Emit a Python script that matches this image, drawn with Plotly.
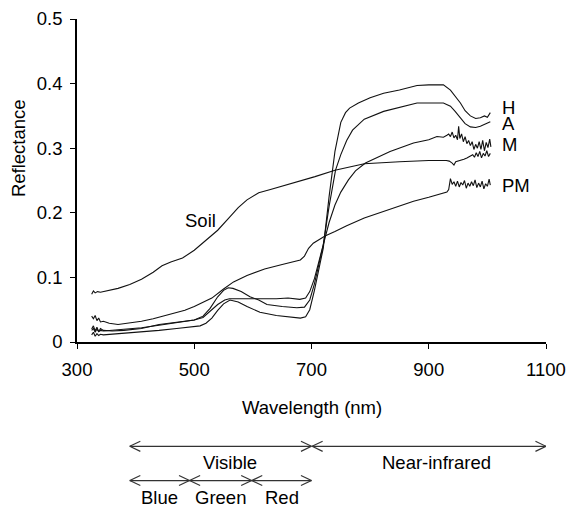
import plotly.graph_objects as go

# ---------------- data ----------------
wl_h = [325, 328, 331, 334, 337, 340, 345, 360, 380, 410, 440, 470, 490, 510, 520, 530, 540, 550, 561, 575, 590, 612, 640, 664, 681, 690, 697, 705, 712, 720, 730, 740, 750, 758, 765, 780, 800, 823, 850, 880, 900, 925, 937, 945, 954, 962, 971, 980, 988, 995, 1000, 1005]
refl_h = [0.011, 0.015, 0.009, 0.013, 0.010, 0.012, 0.011, 0.012, 0.013, 0.015, 0.018, 0.021, 0.023, 0.025, 0.029, 0.037, 0.049, 0.059, 0.065, 0.062, 0.055, 0.046, 0.041, 0.038, 0.037, 0.039, 0.050, 0.080, 0.110, 0.145, 0.225, 0.295, 0.340, 0.355, 0.362, 0.370, 0.378, 0.385, 0.390, 0.397, 0.398, 0.398, 0.390, 0.380, 0.370, 0.358, 0.350, 0.346, 0.347, 0.350, 0.348, 0.355]

wl_a = [325, 328, 331, 334, 337, 340, 345, 360, 380, 410, 440, 470, 500, 515, 527, 540, 550, 558, 566, 580, 595, 610, 624, 650, 675, 688, 697, 705, 712, 720, 730, 741, 750, 760, 770, 790, 823, 850, 880, 925, 937, 945, 954, 962, 971, 980, 988, 995, 1005]
refl_a = [0.020, 0.025, 0.017, 0.023, 0.016, 0.021, 0.018, 0.017, 0.018, 0.021, 0.027, 0.031, 0.034, 0.040, 0.052, 0.070, 0.080, 0.084, 0.083, 0.078, 0.070, 0.065, 0.058, 0.055, 0.053, 0.054, 0.065, 0.090, 0.118, 0.150, 0.210, 0.266, 0.290, 0.312, 0.328, 0.345, 0.357, 0.363, 0.370, 0.370, 0.365, 0.357, 0.347, 0.338, 0.333, 0.332, 0.334, 0.337, 0.341]

wl_m = [325, 328, 331, 334, 337, 340, 345, 360, 380, 410, 440, 470, 500, 515, 527, 540, 552, 560, 580, 600, 620, 640, 660, 680, 690, 697, 705, 712, 720, 730, 740, 750, 763, 775, 792, 810, 834, 874, 900, 914, 925, 931, 934, 937, 940, 943, 946, 949, 951, 953, 956, 959, 962, 965, 968, 971, 974, 977, 980, 983, 986, 989, 992, 995, 998, 1001, 1004, 1006]
refl_m = [0.018, 0.021, 0.015, 0.020, 0.016, 0.018, 0.017, 0.018, 0.019, 0.022, 0.026, 0.030, 0.034, 0.038, 0.047, 0.058, 0.065, 0.067, 0.067, 0.067, 0.066, 0.067, 0.068, 0.066, 0.068, 0.078, 0.098, 0.122, 0.150, 0.185, 0.212, 0.232, 0.251, 0.265, 0.277, 0.285, 0.295, 0.308, 0.313, 0.318, 0.317, 0.320, 0.322, 0.318, 0.325, 0.316, 0.320, 0.313, 0.334, 0.315, 0.322, 0.310, 0.318, 0.307, 0.312, 0.304, 0.310, 0.298, 0.306, 0.300, 0.310, 0.298, 0.312, 0.296, 0.309, 0.301, 0.314, 0.302]

wl_pm = [325, 328, 331, 334, 337, 340, 345, 355, 370, 390, 410, 430, 450, 470, 484, 500, 515, 530, 550, 567, 590, 620, 650, 670, 681, 688, 695, 703, 712, 723, 740, 760, 790, 817, 845, 874, 900, 920, 931, 934, 937, 940, 943, 946, 949, 952, 955, 958, 961, 964, 967, 970, 973, 976, 979, 982, 985, 988, 991, 994, 997, 1000, 1003, 1005]
refl_pm = [0.040, 0.036, 0.041, 0.033, 0.037, 0.031, 0.032, 0.029, 0.027, 0.029, 0.032, 0.036, 0.041, 0.046, 0.049, 0.055, 0.061, 0.068, 0.082, 0.093, 0.103, 0.113, 0.120, 0.124, 0.127, 0.133, 0.145, 0.153, 0.158, 0.164, 0.171, 0.180, 0.192, 0.200, 0.209, 0.218, 0.224, 0.229, 0.232, 0.236, 0.253, 0.244, 0.248, 0.241, 0.249, 0.240, 0.247, 0.243, 0.250, 0.238, 0.246, 0.241, 0.248, 0.242, 0.251, 0.239, 0.246, 0.240, 0.249, 0.237, 0.245, 0.241, 0.252, 0.243]

wl_soil = [325, 328, 331, 335, 340, 350, 370, 390, 410, 430, 445, 460, 480, 500, 520, 540, 560, 575, 590, 610, 630, 650, 680, 706, 740, 790, 850, 900, 930, 935, 940, 943, 946, 950, 955, 960, 965, 970, 975, 978, 981, 984, 987, 990, 993, 996, 999, 1002, 1005]
refl_soil = [0.074, 0.079, 0.076, 0.078, 0.077, 0.079, 0.083, 0.089, 0.097, 0.108, 0.118, 0.124, 0.130, 0.142, 0.158, 0.173, 0.193, 0.208, 0.220, 0.231, 0.236, 0.241, 0.249, 0.256, 0.266, 0.276, 0.279, 0.281, 0.281, 0.280, 0.277, 0.274, 0.279, 0.280, 0.282, 0.283, 0.285, 0.288, 0.290, 0.286, 0.293, 0.287, 0.295, 0.285, 0.292, 0.288, 0.296, 0.287, 0.292]

series_names = ["H", "A", "M", "PM", "Soil"]
x_ticks = [300, 500, 700, 900, 1100]
y_ticks = [0, 0.1, 0.2, 0.3, 0.4, 0.5]

# curve labels: (text, wavelength, reflectance)
curve_labels = [("H", 1021, 0.3635), ("A", 1021, 0.339), ("M", 1021, 0.306), ("PM", 1021, 0.2427), ("Soil", 510, 0.188)]

# spectral bands: (label, start nm, end nm, label nm, row)
bands = [("Visible", 390, 700, 561, 0), ("Near-infrared", 701, 1100, 914, 0),
         ("Blue", 390, 492, 441, 1), ("Green", 492, 598, 545, 1), ("Red", 598, 700, 649, 1)]

# ---------------- style ----------------
FONT = "Liberation Sans, Arial, sans-serif"
FS = 18.5
LINE = "#111111"
ROW_Y = [-0.323, -0.429]        # arrow rows (paper)
LABEL_Y = [-0.374, -0.482]      # band label rows (paper)
HEAD_NM = 18                   # chevron arm length (nm)
HEAD_H = 0.0155                # chevron half height (paper)

fig = go.Figure()
data = {"H": (wl_h, refl_h), "A": (wl_a, refl_a), "M": (wl_m, refl_m),
        "PM": (wl_pm, refl_pm), "Soil": (wl_soil, refl_soil)}
for name in series_names:
    xs, ys = data[name]
    fig.add_trace(go.Scatter(x=xs, y=ys, mode="lines", name=name,
                             line=dict(color=LINE, width=1.1), showlegend=False))

annotations = []
for text, xv, yv in curve_labels:
    annotations.append(dict(x=xv, y=yv, xref="x", yref="y", text=text, showarrow=False,
                            xanchor="left" if text != "Soil" else "center", yanchor="middle",
                            font=dict(family=FONT, size=FS, color="black")))

shapes = []
for label, x0, x1, lx, row in bands:
    y = ROW_Y[row]
    shapes.append(dict(type="line", xref="x", yref="paper", x0=x0, x1=x1, y0=y, y1=y,
                       line=dict(color="#333333", width=1.2)))
    for tip, sgn in ((x0, 1), (x1, -1)):
        for dy in (HEAD_H, -HEAD_H):
            shapes.append(dict(type="line", xref="x", yref="paper", x0=tip, y0=y,
                               x1=tip + sgn * HEAD_NM, y1=y + dy,
                               line=dict(color="#333333", width=1.2)))
    annotations.append(dict(x=lx, y=LABEL_Y[row], xref="x", yref="paper", text=label,
                            showarrow=False, xanchor="center", yanchor="middle",
                            font=dict(family=FONT, size=FS, color="black")))

annotations.append(dict(x=0.5, y=-0.203, xref="paper", yref="paper", text="Wavelength (nm)",
                        showarrow=False, xanchor="center", yanchor="middle",
                        font=dict(family=FONT, size=FS, color="black")))
annotations.append(dict(x=-0.126, y=0.60, xref="paper", yref="paper", text="Reflectance",
                        textangle=-90, showarrow=False, xanchor="center", yanchor="middle",
                        font=dict(family=FONT, size=FS, color="black")))

fig.update_layout(
    width=568, height=507,
    margin=dict(l=77, r=22, t=19, b=165, autoexpand=False),
    paper_bgcolor="white", plot_bgcolor="white",
    font=dict(family=FONT, size=FS, color="black"),
    shapes=shapes, annotations=annotations,
    xaxis=dict(range=[300, 1100], tickvals=x_ticks, showgrid=False, zeroline=False,
               showline=True, linecolor="black", linewidth=1.5, automargin=False,
               ticks="outside", ticklen=5, tickwidth=1.2, tickcolor="black",
               ticklabelstandoff=5),
    yaxis=dict(range=[0, 0.5], tickvals=y_ticks, showgrid=False, zeroline=False,
               showline=True, linecolor="black", linewidth=1.5, automargin=False,
               ticks="outside", ticklen=5, tickwidth=1.2, tickcolor="black",
               ticklabelstandoff=4),
)

fig.write_html("out.html", config={"displayModeBar": False},
               post_script="document.body.style.margin='0px';document.body.style.overflow='hidden';")
